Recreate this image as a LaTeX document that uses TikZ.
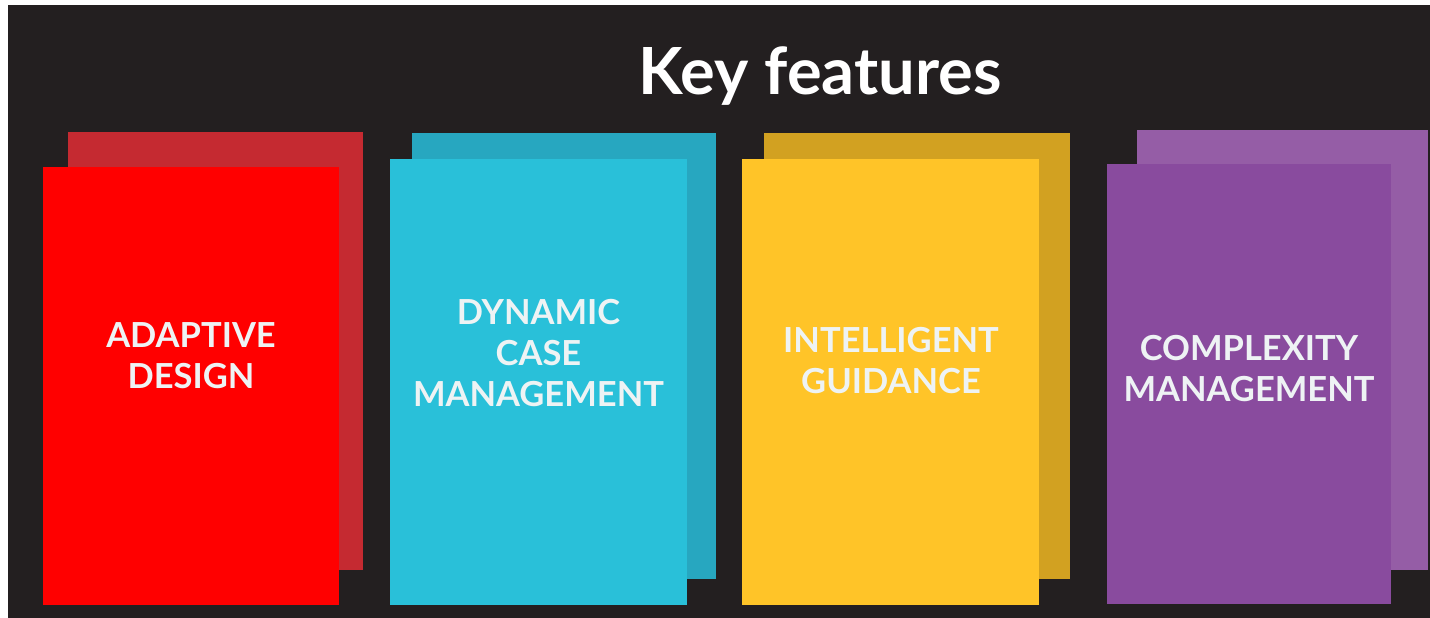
\documentclass[tikz,border=0pt]{standalone}
\usepackage{fontspec}
\setmainfont{Lato}
\definecolor{bgdark}{HTML}{231F20}
\definecolor{redfront}{HTML}{FF0000}
\definecolor{redback}{HTML}{C52A31}
\definecolor{cyanfront}{HTML}{29C0D9}
\definecolor{cyanback}{HTML}{27A7C0}
\definecolor{yellowfront}{HTML}{FFC428}
\definecolor{yellowback}{HTML}{D2A121}
\definecolor{purplefront}{HTML}{894B9E}
\definecolor{purpleback}{HTML}{955DA6}
\definecolor{labeltext}{HTML}{EEF3F4}
\tikzset{
  card/.style={draw=none},
  cardlabel/.style={text=labeltext, align=center, inner sep=0pt,
    font=\fontsize{34.5}{41}\selectfont\bfseries},
  titletext/.style={text=white, inner sep=0pt,
    font=\fontsize{65}{72}\selectfont\bfseries}
}
\begin{document}
\begin{tikzpicture}[x=1pt,y=-1pt]
\useasboundingbox (0,0) rectangle (1430,618);
\fill[white] (0,0) rectangle (1430,618);
\fill[bgdark] (8,5) rectangle (1430,618);
% back cards
\fill[card, redback] (68,132) rectangle (363,570);
\fill[card, cyanback] (412,133) rectangle (716,579);
\fill[card, yellowback] (764,133) rectangle (1070,579);
\fill[card, purpleback] (1137,130) rectangle (1428,570);
% front cards
\fill[card, redfront] (43,167) rectangle (339,605);
\fill[card, cyanfront] (390,159) rectangle (687,605);
\fill[card, yellowfront] (742,159) rectangle (1039,605);
\fill[card, purplefront] (1107,164) rectangle (1391,604);
% title
\node[titletext, anchor=base] (title) at (820,94) {Key features};
% labels
\node[cardlabel] (adaptive) at (191,356) {ADAPTIVE\\DESIGN};
\node[cardlabel] (dynamic) at (538.5,353) {DYNAMIC\\CASE\\MANAGEMENT};
\node[cardlabel] (intelligent) at (891,361) {INTELLIGENT\\GUIDANCE};
\node[cardlabel] (complexity) at (1249,369) {COMPLEXITY\\MANAGEMENT};
\end{tikzpicture}
\end{document}
